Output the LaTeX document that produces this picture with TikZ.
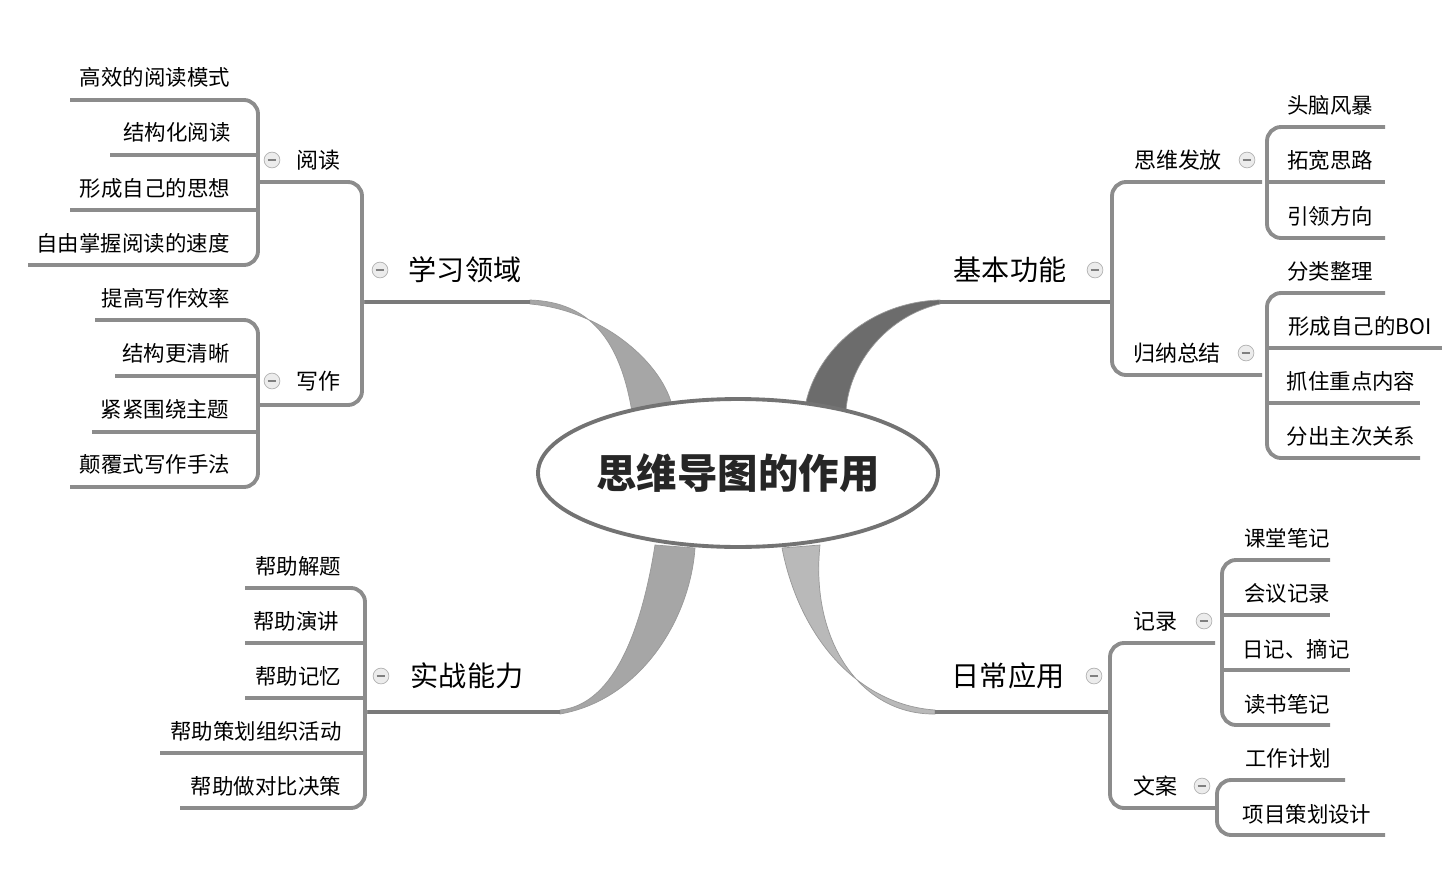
\documentclass[tikz,border=0pt]{standalone}
\usepackage{fontspec}
\setmainfont{Noto Sans CJK SC}
\usetikzlibrary{positioning, shapes.geometric}
\definecolor{branchgray}{HTML}{7A7A7A}
\definecolor{leafgray}{HTML}{8C8C8C}
\begin{document}
\begin{tikzpicture}[x=0.02cm, y=-0.02cm,
        leaf/.style={font=\fontsize{12.2}{14}\selectfont, inner sep=1pt},
        topic/.style={font=\fontsize{16}{19}\selectfont, inner sep=1pt},
        wire/.style={draw=leafgray, line width=2.2pt, rounded corners=8pt},
        wedge/.style={fill=gray!70, draw=gray!80},
        fold/.style={circle, draw=gray!60, fill=gray!15, minimum size=9pt, inner sep=0pt, path picture={\draw[gray, thick] ([xshift=-2.5pt]path picture bounding box.center) -- ([xshift=2.5pt]path picture bounding box.center);}},
    ]
\useasboundingbox (0,0) rectangle (1454,879);

% main wedges
\draw[wedge] (632,412) .. controls (620,340) and (590,302) .. (530,300) -- (530,304) .. controls (600,310) and (660,360) .. (672,405) -- cycle;
\draw[wedge, fill=gray!85!black] (806,402) .. controls (818,350) and (870,302) .. (940,300) -- (940,304) .. controls (890,315) and (850,360) .. (846,410) -- cycle;
\draw[wedge] (655,545) .. controls (640,640) and (610,705) .. (560,710) -- (560,714) .. controls (640,700) and (690,620) .. (695,548) -- cycle;
\draw[wedge, fill=gray!55] (782,548) .. controls (800,640) and (860,705) .. (935,710) -- (935,714) .. controls (860,715) and (810,640) .. (820,545) -- cycle;

% centre
\node[ellipse, draw=gray!90!black, line width=2.2pt, fill=white, inner sep=0pt, minimum width=7.72cm, minimum height=2.96cm, font=\fontsize{23}{27}\selectfont\bfseries, text=gray!30!black] (Root) at (738,473) {思维导图的作用};

% topics
\coordinate (LearnL) at (365,302); \coordinate (LearnR) at (530,302);
\coordinate (BaseL) at (940,302); \coordinate (BaseR) at (1110,302);
\coordinate (FightL) at (368,712); \coordinate (FightR) at (560,712);
\coordinate (DailyL) at (935,712); \coordinate (DailyR) at (1108,712);
\draw[draw=branchgray, line width=2.4pt] (LearnL) -- (LearnR);
\draw[draw=branchgray, line width=2.4pt] (BaseL) -- (BaseR);
\draw[draw=branchgray, line width=2.4pt] (FightL) -- (FightR);
\draw[draw=branchgray, line width=2.4pt] (DailyL) -- (DailyR);
\node[topic] (Learn) at (465,270) {学习领域};
\node[topic] (Base) at (1010,270) {基本功能};
\node[topic] (Fight) at (467,676) {实战能力};
\node[topic] (Daily) at (1008,676) {日常应用};
\node[fold] (LearnFold) at (380,270) {};
\node[fold] (BaseFold) at (1095,270) {};
\node[fold] (FightFold) at (381,676) {};
\node[fold] (DailyFold) at (1094,676) {};

% learn: reading / writing
\draw[wire] (260,182) -- (362,182) -- (362,405) -- (260,405);
\draw[wire] (362,302) -- (LearnL);
\node[leaf, font=\fontsize{12.5}{14}\selectfont] (Read) at (318,160) {阅读};
\node[leaf, font=\fontsize{12.5}{14}\selectfont] (Write) at (318,381) {写作};
\node[fold] at (272,160) {}; \node[fold] at (272,381) {};
\draw[wire] (70,100) -- (258,100) -- (258,265) -- (28,265);
\draw[wire] (110,155) -- (258,155); \draw[wire] (70,210) -- (258,210);
\node[leaf] (ReadA) at (155,77) {高效的阅读模式};
\node[leaf] (ReadB) at (177,132) {结构化阅读};
\node[leaf] (ReadC) at (155,188) {形成自己的思想};
\node[leaf] (ReadD) at (133,243) {自由掌握阅读的速度};
\draw[wire] (95,320) -- (258,320) -- (258,487) -- (70,487);
\draw[wire] (115,376) -- (258,376); \draw[wire] (92,432) -- (258,432);
\node[leaf] (WriteA) at (166,298) {提高写作效率};
\node[leaf] (WriteB) at (176,353) {结构更清晰};
\node[leaf] (WriteC) at (165,409) {紧紧围绕主题};
\node[leaf] (WriteD) at (155,464) {颠覆式写作手法};

% base: divergence / summary
\draw[wire] (1262,182) -- (1112,182) -- (1112,375) -- (1262,375);
\draw[wire] (1112,302) -- (BaseR);
\node[leaf, font=\fontsize{12.5}{14}\selectfont] (Spread) at (1178,160) {思维发放};
\node[leaf, font=\fontsize{12.5}{14}\selectfont] (Sum) at (1177,353) {归纳总结};
\node[fold] at (1247,160) {}; \node[fold] at (1246,353) {};
\draw[wire] (1385,127) -- (1267,127) -- (1267,238) -- (1385,238);
\draw[wire] (1267,182) -- (1385,182);
\node[leaf] (SpreadA) at (1330,105) {头脑风暴};
\node[leaf] (SpreadB) at (1330,160) {拓宽思路};
\node[leaf] (SpreadC) at (1330,216) {引领方向};
\draw[wire] (1385,293) -- (1267,293) -- (1267,458) -- (1420,458);
\draw[wire] (1267,348) -- (1442,348); \draw[wire] (1267,403) -- (1420,403);
\node[leaf] (SumA) at (1330,271) {分类整理};
\node[leaf] (SumB) at (1360,326) {形成自己的BOI};
\node[leaf] (SumC) at (1351,381) {抓住重点内容};
\node[leaf] (SumD) at (1351,436) {分出主次关系};

% fight
\draw[wire] (245,588) -- (365,588) -- (365,808) -- (180,808);
\draw[wire] (245,643) -- (365,643); \draw[wire] (245,698) -- (365,698);
\draw[wire] (160,753) -- (365,753);
\draw[wire] (365,712) -- (FightL);
\node[leaf] (FightA) at (298,566) {帮助解题};
\node[leaf] (FightB) at (296,621) {帮助演讲};
\node[leaf] (FightC) at (298,676) {帮助记忆};
\node[leaf] (FightD) at (256,731) {帮助策划组织活动};
\node[leaf] (FightE) at (266,786) {帮助做对比决策};

% daily: records / copy
\draw[wire] (1215,643) -- (1110,643) -- (1110,808) -- (1215,808);
\node[leaf, font=\fontsize{12.5}{14}\selectfont] (Note) at (1155,621) {记录};
\node[leaf, font=\fontsize{12.5}{14}\selectfont] (Copy) at (1155,786) {文案};
\node[fold] at (1204,621) {}; \node[fold] at (1202,786) {};
\draw[wire] (1330,560) -- (1222,560) -- (1222,725) -- (1330,725);
\draw[wire] (1222,615) -- (1330,615); \draw[wire] (1222,670) -- (1350,670);
\node[leaf] (NoteA) at (1287,538) {课堂笔记};
\node[leaf] (NoteB) at (1287,593) {会议记录};
\node[leaf] (NoteC) at (1296,649) {日记、摘记};
\node[leaf] (NoteD) at (1287,704) {读书笔记};
\draw[wire] (1345,780) -- (1217,780) -- (1217,835) -- (1385,835);
\node[leaf] (CopyA) at (1288,758) {工作计划};
\node[leaf] (CopyB) at (1307,814) {项目策划设计};
\end{tikzpicture}
\end{document}
